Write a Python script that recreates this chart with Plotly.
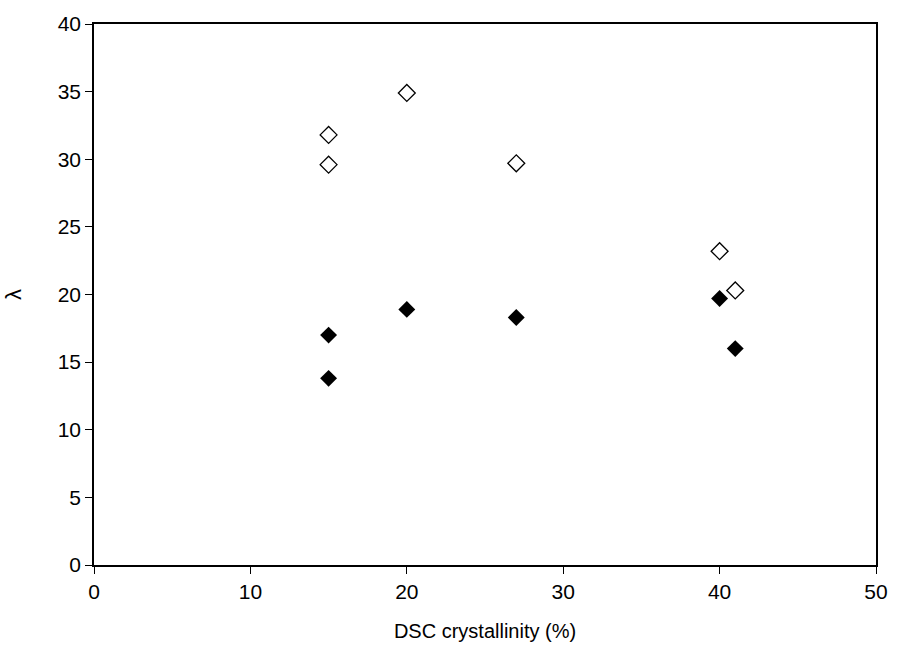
import plotly.graph_objects as go

crystallinity = [15, 15, 20, 27, 40, 41]
lambda_open = [31.8, 29.6, 34.9, 29.7, 23.2, 20.3]
lambda_filled = [17.0, 13.8, 18.9, 18.3, 19.7, 16.0]

x_ticks = [0, 10, 20, 30, 40, 50]
y_ticks = [0, 5, 10, 15, 20, 25, 30, 35, 40]

fig = go.Figure()
fig.add_trace(go.Scatter(
    x=crystallinity, y=lambda_open, mode="markers",
    marker=dict(symbol="diamond-open", size=13, color="black", line=dict(width=1.3, color="black")),
    showlegend=False,
))
fig.add_trace(go.Scatter(
    x=crystallinity, y=lambda_filled, mode="markers",
    marker=dict(symbol="diamond", size=13, color="black", line=dict(width=0)),
    showlegend=False,
))

font = dict(family="Liberation Sans, Arial, sans-serif", color="black")
fig.update_layout(
    width=900, height=651,
    margin=dict(l=90, r=15, t=17, b=86),
    plot_bgcolor="white", paper_bgcolor="white",
    font=dict(**font, size=21),
    xaxis=dict(
        range=[0, 50], tickvals=x_ticks, ticktext=[str(v) for v in x_ticks],
        showgrid=False, zeroline=False, showline=True, linecolor="black", linewidth=1.5,
        mirror=True, ticks="outside", ticklen=7, tickcolor="black", tickwidth=1,
        ticklabeloverflow="allow",
        tickfont=dict(size=21), title=dict(text="DSC crystallinity (%)", font=dict(size=20), standoff=22),
    ),
    yaxis=dict(
        range=[0, 40], tickvals=y_ticks, ticktext=[str(v) for v in y_ticks],
        showgrid=False, zeroline=False, showline=True, linecolor="black", linewidth=1.5,
        mirror=True, ticks="outside", ticklen=7, tickcolor="black", tickwidth=1,
        ticklabeloverflow="allow",
        tickfont=dict(size=21), title=dict(text="λ", font=dict(size=22), standoff=30),
    ),
)

fig.write_html("out.html")
